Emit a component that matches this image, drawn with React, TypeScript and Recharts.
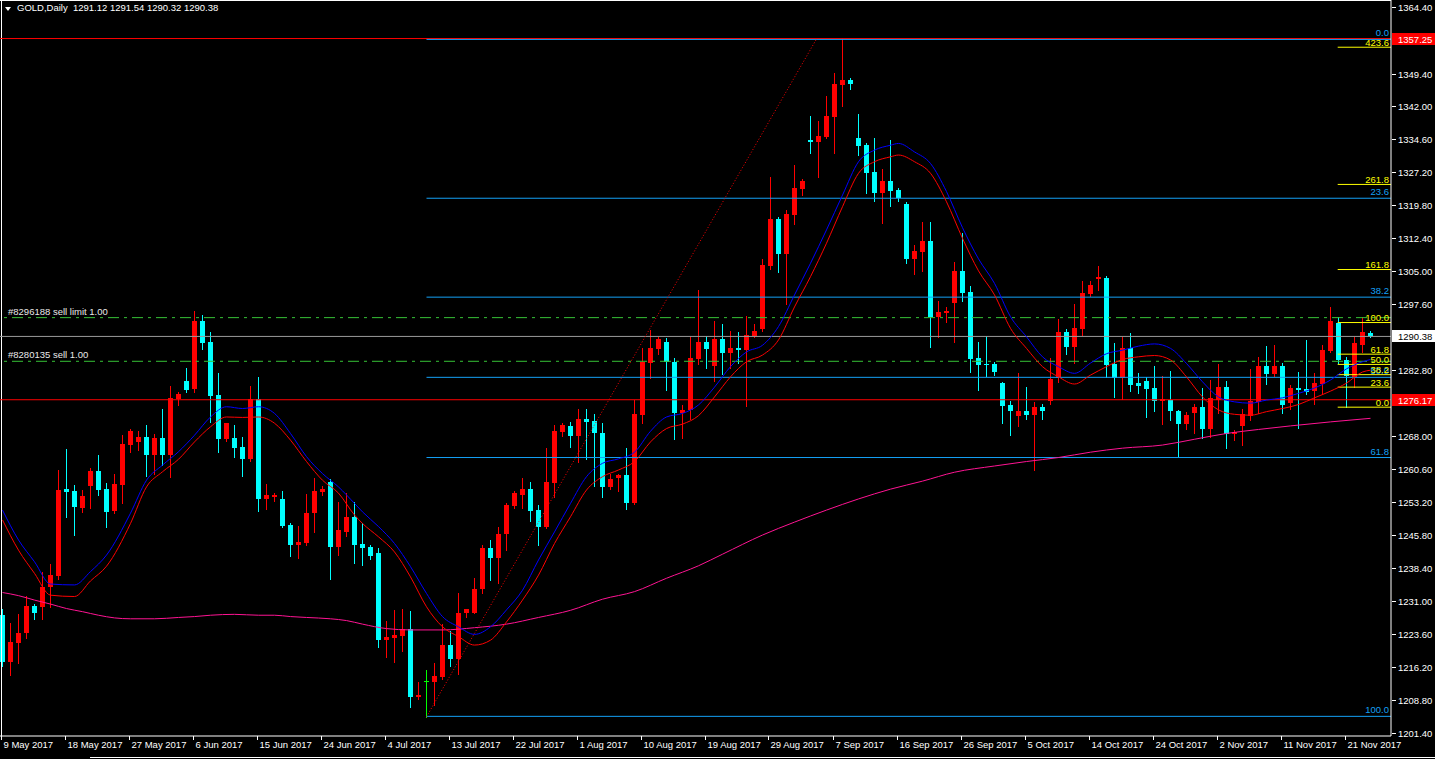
import { ComposedChart, Bar, Line, XAxis, YAxis, ReferenceLine } from "recharts";

// daily candles, 9 May 2017 .. 24 Nov 2017 (bar index 0..171)
const opens = [
  1227.8, 1217.3, 1221.6, 1223.7, 1229.9, 1229.7, 1234.1, 1236.6, 1256.1, 1255.7, 1251.9, 1256.8, 1260.2, 1256.1, 1251.2, 1257.0,
  1266.0, 1266.7, 1267.7, 1263.7, 1267.5, 1263.7, 1276.3, 1280.4, 1278.5, 1293.8, 1289.2, 1277.2, 1267.3, 1267.5, 1265.6, 1262.8,
  1276.3, 1253.9, 1254.4, 1253.9, 1248.0, 1243.6, 1244.1, 1250.7, 1255.5, 1257.8, 1243.2, 1246.5, 1249.9, 1243.9, 1243.2, 1241.7,
  1222.2, 1222.6, 1223.1, 1224.6, 1209.4, 1213.0, 1212.9, 1214.0, 1221.1, 1217.9, 1228.4, 1228.4, 1233.6, 1242.9, 1240.7, 1246.0,
  1252.4, 1254.8, 1256.1, 1251.4, 1247.7, 1257.5, 1269.0, 1270.3, 1268.1, 1271.8, 1271.4, 1268.8, 1256.6, 1258.7, 1259.3, 1253.0,
  1272.7, 1284.5, 1287.5, 1289.1, 1284.7, 1273.1, 1273.9, 1285.3, 1289.2, 1283.8, 1289.8, 1286.7, 1287.8, 1287.3, 1290.5, 1292.0,
  1306.3, 1316.7, 1308.9, 1317.6, 1323.5, 1334.5, 1334.0, 1335.1, 1339.7, 1346.8, 1347.9, 1335.0, 1333.3, 1327.4, 1322.6, 1325.3,
  1323.2, 1320.1, 1307.8, 1309.4, 1311.9, 1294.7, 1295.7, 1297.8, 1305.1, 1300.3, 1285.6, 1284.3, 1284.2, 1280.0, 1275.0, 1272.5,
  1273.7, 1272.7, 1274.6, 1275.9, 1281.1, 1291.4, 1288.1, 1292.0, 1299.9, 1303.3, 1303.6, 1284.3, 1281.0, 1287.8, 1279.9, 1280.4,
  1278.9, 1275.9, 1276.1, 1273.7, 1270.7, 1273.3, 1274.6, 1269.6, 1276.1, 1279.1, 1268.5, 1270.3, 1272.5, 1275.6, 1283.7, 1281.9,
  1283.7, 1275.4, 1278.7, 1278.6, 1278.2, 1279.7, 1287.1, 1293.5, 1285.2, 1281.2, 1288.5, 1291.12,
];
const highs = [
  1229.2, 1226.0, 1228.1, 1232.1, 1230.3, 1237.6, 1239.3, 1260.4, 1265.1, 1257.0, 1255.9, 1260.8, 1263.7, 1257.4, 1259.6, 1268.2,
  1269.5, 1269.1, 1270.5, 1268.5, 1274.1, 1279.2, 1278.0, 1283.4, 1296.1, 1295.3, 1291.4, 1282.1, 1271.0, 1270.5, 1267.9, 1279.2,
  1281.3, 1257.2, 1255.2, 1255.7, 1248.4, 1247.9, 1255.0, 1258.7, 1256.8, 1258.3, 1253.3, 1255.2, 1253.3, 1248.4, 1243.6, 1242.8,
  1226.6, 1229.0, 1229.3, 1228.8, 1212.9, 1215.6, 1217.0, 1225.8, 1224.3, 1232.9, 1229.3, 1236.1, 1243.6, 1244.7, 1247.7, 1253.1,
  1255.7, 1258.7, 1257.6, 1252.5, 1265.3, 1270.5, 1270.9, 1271.2, 1274.0, 1274.0, 1273.0, 1270.9, 1259.6, 1259.6, 1265.3, 1276.1,
  1287.7, 1291.8, 1290.2, 1290.0, 1285.6, 1275.1, 1290.2, 1300.8, 1290.5, 1293.8, 1293.2, 1291.6, 1291.3, 1295.0, 1293.2, 1307.8,
  1326.2, 1317.2, 1318.8, 1328.9, 1325.7, 1339.9, 1338.7, 1344.3, 1349.6, 1357.3, 1348.3, 1340.3, 1333.7, 1335.0, 1328.0, 1334.5,
  1323.6, 1320.5, 1310.9, 1316.1, 1316.1, 1298.4, 1296.9, 1307.2, 1313.7, 1301.7, 1289.2, 1290.5, 1284.7, 1280.2, 1275.9, 1282.2,
  1279.1, 1275.7, 1275.2, 1285.6, 1294.3, 1292.0, 1297.7, 1302.8, 1302.8, 1306.3, 1303.9, 1289.0, 1290.3, 1291.1, 1282.2, 1281.3,
  1283.7, 1281.5, 1282.6, 1273.8, 1273.5, 1275.2, 1278.9, 1280.6, 1284.2, 1280.4, 1269.4, 1274.2, 1283.1, 1285.8, 1288.3, 1288.5,
  1284.5, 1279.5, 1282.5, 1289.6, 1282.1, 1288.4, 1297.0, 1294.8, 1285.7, 1290.3, 1294.8, 1291.54,
];
const lows = [
  1216.4, 1214.4, 1217.1, 1222.8, 1226.9, 1227.0, 1229.7, 1235.9, 1249.9, 1245.8, 1251.0, 1251.8, 1254.8, 1247.7, 1250.7, 1253.0,
  1264.5, 1264.9, 1259.0, 1259.6, 1261.5, 1258.9, 1275.0, 1278.0, 1278.0, 1287.5, 1271.2, 1264.5, 1266.9, 1263.4, 1259.0, 1262.5,
  1251.3, 1251.7, 1253.5, 1247.5, 1241.2, 1240.7, 1243.6, 1246.5, 1254.8, 1235.9, 1241.3, 1245.6, 1239.6, 1239.1, 1240.4, 1220.7,
  1218.5, 1217.3, 1219.8, 1207.3, 1208.9, 1205.0, 1207.6, 1213.5, 1216.4, 1214.6, 1227.5, 1228.2, 1232.7, 1235.7, 1235.1, 1242.4,
  1251.9, 1251.9, 1249.0, 1243.6, 1247.4, 1254.4, 1268.0, 1265.6, 1262.3, 1262.8, 1256.9, 1254.3, 1256.1, 1255.7, 1251.6, 1252.7,
  1270.9, 1281.0, 1286.4, 1278.3, 1267.3, 1267.6, 1271.8, 1284.3, 1283.4, 1280.4, 1281.9, 1283.2, 1284.5, 1274.8, 1290.3, 1291.7,
  1305.5, 1304.9, 1297.7, 1315.6, 1322.1, 1331.6, 1326.2, 1334.9, 1331.6, 1342.1, 1345.9, 1331.1, 1322.6, 1320.8, 1315.8, 1319.7,
  1320.8, 1306.8, 1304.5, 1305.1, 1288.1, 1290.2, 1293.7, 1289.2, 1298.4, 1282.5, 1278.3, 1281.6, 1281.7, 1271.0, 1268.2, 1270.3,
  1271.8, 1260.4, 1271.8, 1275.2, 1280.2, 1286.4, 1284.5, 1290.7, 1299.4, 1300.8, 1281.3, 1276.8, 1276.3, 1278.1, 1277.7, 1272.3,
  1273.7, 1270.7, 1271.6, 1263.5, 1269.5, 1268.8, 1267.5, 1267.7, 1273.3, 1265.4, 1267.1, 1266.0, 1271.6, 1273.1, 1279.7, 1281.5,
  1273.3, 1274.1, 1269.9, 1277.5, 1275.2, 1277.4, 1286.8, 1284.4, 1274.5, 1279.0, 1286.9, 1290.32,
];
const closes = [
  1217.3, 1221.8, 1223.7, 1229.9, 1228.2, 1234.2, 1236.8, 1255.9, 1255.5, 1252.2, 1254.5, 1260.2, 1255.9, 1251.0, 1257.2, 1266.2,
  1269.1, 1267.7, 1263.7, 1267.5, 1263.7, 1276.5, 1277.5, 1278.3, 1293.8, 1289.0, 1277.1, 1267.3, 1270.9, 1265.4, 1262.9, 1276.3,
  1254.0, 1254.8, 1254.7, 1247.9, 1243.6, 1244.3, 1250.8, 1255.7, 1256.1, 1243.2, 1246.9, 1249.9, 1243.6, 1242.9, 1241.1, 1222.2,
  1223.0, 1223.3, 1224.6, 1209.5, 1209.9, 1213.0, 1214.1, 1221.1, 1218.0, 1228.4, 1229.1, 1233.7, 1242.9, 1240.7, 1246.0, 1252.5,
  1255.2, 1256.1, 1251.3, 1247.7, 1257.6, 1269.1, 1270.5, 1268.0, 1271.8, 1271.2, 1268.6, 1256.6, 1258.4, 1259.3, 1253.0, 1272.9,
  1284.7, 1287.7, 1289.7, 1284.6, 1273.3, 1273.9, 1285.5, 1289.2, 1287.5, 1289.8, 1286.7, 1287.8, 1287.3, 1290.7, 1291.6, 1306.4,
  1316.7, 1308.9, 1317.9, 1323.7, 1325.3, 1334.0, 1335.4, 1339.9, 1347.0, 1347.9, 1347.0, 1333.2, 1327.1, 1322.6, 1325.3, 1323.1,
  1321.5, 1307.8, 1309.6, 1311.9, 1294.7, 1295.9, 1296.2, 1305.1, 1300.2, 1285.3, 1284.0, 1284.0, 1282.5, 1274.8, 1273.7, 1273.7,
  1272.7, 1274.5, 1273.7, 1280.8, 1291.4, 1288.1, 1292.3, 1300.2, 1301.9, 1303.8, 1284.0, 1281.0, 1287.7, 1279.5, 1279.3, 1278.6,
  1275.9, 1276.3, 1273.7, 1270.7, 1272.7, 1274.6, 1269.6, 1276.6, 1279.1, 1268.5, 1268.9, 1273.0, 1275.9, 1283.7, 1281.9, 1283.7,
  1275.0, 1278.9, 1278.3, 1278.0, 1280.0, 1287.3, 1293.8, 1285.1, 1281.5, 1288.8, 1291.4, 1290.38,
];

// moving averages: [bar index, price]
const maBlue: [number, number][] = [
  [0, 1251.4], [2, 1244.7], [4, 1239.8], [6, 1234.8], [9, 1234.6], [11, 1237.6], [13, 1241.3], [16, 1250.7], [18, 1258.1],
  [20, 1261.5], [22, 1264.5], [24, 1268.2], [26, 1272.3], [28, 1274.6], [30, 1274.2], [32, 1274.6], [34, 1273.1], [36, 1268.6],
  [38, 1263.4], [40, 1259.6], [42, 1256.6], [44, 1252.9], [45, 1251.0], [47, 1247.7], [49, 1243.9], [51, 1238.7], [53, 1232.7],
  [55, 1227.5], [57, 1225.2], [59, 1223.5], [61, 1225.2], [63, 1229.0], [65, 1233.4], [67, 1240.2], [69, 1246.5], [71, 1252.9],
  [73, 1258.9], [75, 1261.9], [77, 1262.9], [79, 1264.4], [81, 1269.1], [83, 1272.3], [85, 1273.1], [87, 1275.0], [89, 1279.0],
  [91, 1283.6], [93, 1286.9], [95, 1288.4], [97, 1292.6], [99, 1299.7], [101, 1306.8], [103, 1314.3], [105, 1322.1],
  [107, 1329.6], [109, 1332.2], [111, 1333.3], [112, 1333.7], [114, 1331.8], [116, 1329.2], [118, 1322.9], [120, 1314.8],
  [122, 1307.8], [124, 1302.3], [126, 1294.8], [128, 1290.3], [130, 1285.8], [132, 1283.6], [134, 1282.1], [136, 1284.4],
  [138, 1286.5], [140, 1287.3], [142, 1288.2], [144, 1288.7], [146, 1287.7], [148, 1284.3], [150, 1280.2], [152, 1276.8],
  [154, 1275.7], [156, 1275.4], [158, 1276.1], [160, 1276.6], [162, 1277.6], [164, 1278.8], [166, 1280.6], [168, 1283.1],
  [170, 1284.7], [171, 1285.2],
];
const maRed: [number, number][] = [
  [0, 1249.2], [2, 1242.4], [4, 1237.2], [6, 1232.3], [9, 1232.0], [11, 1235.5], [13, 1238.8], [16, 1248.4], [18, 1256.6],
  [20, 1260.0], [22, 1262.8], [24, 1266.7], [26, 1270.1], [28, 1272.3], [30, 1272.2], [32, 1272.3], [34, 1270.9], [36, 1267.1],
  [38, 1262.3], [40, 1258.1], [42, 1255.2], [44, 1250.3], [45, 1248.4], [47, 1245.4], [49, 1242.0], [51, 1236.4], [53, 1229.7],
  [55, 1225.2], [57, 1223.0], [59, 1221.1], [61, 1222.2], [63, 1226.3], [65, 1231.2], [67, 1236.8], [69, 1243.9], [71, 1249.9],
  [73, 1255.9], [75, 1258.9], [77, 1260.4], [79, 1262.3], [81, 1266.7], [83, 1269.7], [85, 1270.7], [87, 1272.6], [89, 1276.8],
  [91, 1281.3], [93, 1284.7], [95, 1286.2], [97, 1289.6], [99, 1297.0], [101, 1303.8], [103, 1311.3], [105, 1319.5],
  [107, 1327.0], [109, 1329.6], [111, 1330.7], [112, 1331.1], [114, 1329.6], [116, 1327.0], [118, 1320.6], [120, 1312.4],
  [122, 1305.1], [124, 1299.7], [126, 1292.2], [128, 1287.7], [130, 1283.6], [132, 1281.3], [134, 1279.7], [136, 1281.7],
  [138, 1283.6], [140, 1285.2], [142, 1285.8], [144, 1286.1], [146, 1285.1], [148, 1281.3], [150, 1276.8], [152, 1273.9],
  [154, 1272.9], [156, 1272.7], [158, 1273.5], [160, 1274.2], [162, 1275.1], [164, 1276.6], [166, 1278.1], [168, 1279.9],
  [170, 1282.4], [171, 1282.8],
];
const maPink: [number, number][] = [
  [0, 1232.9], [2, 1232.2], [4, 1231.2], [6, 1230.3], [8, 1229.3], [10, 1228.6], [12, 1227.8], [14, 1227.2], [16, 1227.0],
  [19, 1227.0], [22, 1227.3], [24, 1227.5], [26, 1227.8], [29, 1228.0], [32, 1227.8], [34, 1227.8], [36, 1227.5], [38, 1227.3],
  [41, 1227.0], [43, 1226.6], [45, 1225.8], [48, 1224.8], [51, 1224.5], [55, 1224.5], [59, 1225.0], [63, 1225.8], [67, 1227.3],
  [71, 1228.9], [75, 1231.4], [79, 1233.1], [83, 1236.1], [87, 1238.9], [90, 1241.5], [95, 1245.8], [99, 1248.7], [103, 1251.4],
  [107, 1253.9], [111, 1256.1], [115, 1257.9], [119, 1259.9], [124, 1261.3], [128, 1262.3], [132, 1263.2], [136, 1264.4],
  [140, 1265.3], [145, 1266.0], [149, 1267.3], [153, 1268.6], [157, 1269.5], [161, 1270.3], [166, 1271.2], [171, 1272.0],
];

const dateTickBars = [0, 8, 16, 24, 32, 40, 48, 56, 64, 72, 80, 88, 96, 104, 112, 120, 128, 136, 144, 152, 160, 168];
const dateLabels = [
  "9 May 2017", "18 May 2017", "27 May 2017", "6 Jun 2017", "15 Jun 2017", "24 Jun 2017", "4 Jul 2017", "13 Jul 2017",
  "22 Jul 2017", "1 Aug 2017", "10 Aug 2017", "19 Aug 2017", "29 Aug 2017", "7 Sep 2017", "16 Sep 2017", "26 Sep 2017",
  "5 Oct 2017", "14 Oct 2017", "24 Oct 2017", "2 Nov 2017", "11 Nov 2017", "21 Nov 2017",
];
const priceTicks = [
  1201.4, 1208.8, 1216.2, 1223.6, 1231.0, 1238.4, 1245.8, 1253.2, 1260.6, 1268.0, 1282.8, 1297.6, 1305.0, 1312.4, 1319.8,
  1327.2, 1334.6, 1342.0, 1349.4, 1364.4,
];

// fibonacci retracement from the July low to the September high
const fibMainStart = 53;
const fibMainLevels = ["0.0", "23.6", "38.2", "50.0", "61.8", "100.0"];
const fibMainPrices = [1357.05, 1321.4, 1299.2, 1281.2, 1263.2, 1205.1];
const fibTrend = { fromBar: 53, fromPrice: 1205.0, toBar: 101.8, toPrice: 1357.3 };
// small fibonacci on the last swing
const fibSmallStart = 166.9;
const fibSmallLevels = ["0.0", "23.6", "38.2", "50.0", "61.8", "100.0", "161.8", "261.8", "423.6"];
const fibSmallPrices = [1274.5, 1279.0, 1281.8, 1284.1, 1286.4, 1293.5, 1305.4, 1324.5, 1355.3];

const orderLabels = ["#8296188 sell limit 1.00", "#8280135 sell 1.00"];
const orderPrices = [1294.6, 1284.8];

const bidPrice = 1290.38;
const redLevels = [1357.25, 1276.17];

const W = 1435;
const H = 759;
const X_MIN = -0.3125;
const X_MAX = 173.5625;
const Y_MIN = 1200.69;
const Y_MAX = 1365.9;
const FONT = "'Liberation Sans', Arial, sans-serif";
const BULL = "#ff0000";
const BEAR = "#00ffff";
const FIB = "#14a0f5";

const rows = opens.map((open, i) => ({
  i,
  open,
  high: highs[i],
  low: lows[i],
  close: closes[i],
  range: [lows[i], highs[i]],
}));
const toPoints = (pts: [number, number][]) => pts.map(([i, v]) => ({ i, v }));

function Candle(props: any) {
  const { x, y, width, height, payload } = props;
  if (!payload || x == null) return null;
  const { open, close, high, low } = payload;
  const color = close > open ? BULL : close < open ? BEAR : "#00ff00";
  const top = Math.min(y, y + height);
  const h = Math.abs(height);
  const toY = (p: number) => top + ((high - p) / (high - low || 1)) * h;
  const cx = Math.round(x + width / 2 - 0.5) + 0.5;
  const left = cx - 2.5;
  const bTop = Math.round(toY(Math.max(open, close)));
  const bBot = Math.round(toY(Math.min(open, close)));
  return (
    <g>
      <line x1={cx} x2={cx} y1={Math.round(top)} y2={Math.round(top + h) + 1} stroke={color} strokeWidth={1} />
      {open === close ? (
        <line x1={left} x2={left + 5} y1={bTop + 0.5} y2={bTop + 0.5} stroke={color} />
      ) : (
        <rect x={left} y={bTop} width={5} height={Math.max(1, bBot - bTop)} fill={color} />
      )}
    </g>
  );
}

function DateTick(props: any) {
  const { x, payload } = props;
  const idx = dateTickBars.indexOf(payload.value);
  const tx = Math.round(x) - 0.5;
  return (
    <g>
      <line x1={tx - 1} x2={tx - 1} y1={736} y2={740} stroke="#fff" />
      <text x={tx + 1} y={748} fill="#fff" fontSize={9.5} fontFamily={FONT}>
        {dateLabels[idx]}
      </text>
    </g>
  );
}

function PriceTick(props: any) {
  const { y, payload } = props;
  const ty = Math.round(y) + 0.5;
  return (
    <g>
      <line x1={1392} x2={1396} y1={ty} y2={ty} stroke="#fff" />
      <text x={1398} y={ty + 3.5} fill="#fff" fontSize={9.5} fontFamily={FONT}>
        {Number(payload.value).toFixed(2)}
      </text>
    </g>
  );
}

function LevelText(props: any) {
  const { viewBox, text, color, lift } = props;
  if (!viewBox) return null;
  return (
    <text x={viewBox.x + viewBox.width - 2} y={viewBox.y - lift} textAnchor="end" fill={color} fontSize={9.5} fontFamily={FONT}>
      {text}
    </text>
  );
}

function OrderText(props: any) {
  const { viewBox, text } = props;
  if (!viewBox) return null;
  return (
    <text x={8} y={viewBox.y - 3} fill="#e8e8e8" fontSize={9.5} fontFamily={FONT}>
      {text}
    </text>
  );
}

function PriceBox(props: any) {
  const { viewBox, text, bg, fg } = props;
  if (!viewBox) return null;
  const x0 = 1392;
  const cy = Math.round(viewBox.y);
  return (
    <g>
      <rect x={x0} y={cy - 6} width={W - x0} height={12} fill={bg} />
      <text x={x0 + 6} y={cy + 4} fill={fg} fontSize={9.5} fontFamily={FONT}>
        {text}
      </text>
    </g>
  );
}

export default function App() {
  return (
    <div style={{ position: "absolute", left: 0, top: 0, width: W, height: H, background: "#000", overflow: "hidden" }}>
      <ComposedChart width={W} height={H} data={rows} margin={{ top: 0, right: 0, bottom: 0, left: 0 }}>
        <XAxis
          type="number"
          dataKey="i"
          domain={[X_MIN, X_MAX]}
          allowDataOverflow
          ticks={dateTickBars}
          interval={0}
          tick={<DateTick />}
          tickLine={false}
          axisLine={{ stroke: "#fff" }}
          height={23}
        />
        <YAxis
          orientation="right"
          type="number"
          domain={[Y_MIN, Y_MAX]}
          allowDataOverflow
          ticks={priceTicks}
          interval={0}
          tick={<PriceTick />}
          tickLine={false}
          axisLine={{ stroke: "#fff" }}
          width={44}
        />

        <ReferenceLine x={-0.125} stroke="#fff" />
        <ReferenceLine y={1365.79} stroke="#fff" />

        <Bar dataKey="range" barSize={5} shape={<Candle />} isAnimationActive={false} />

        {redLevels.map((p) => (
          <ReferenceLine key={"r" + p} y={p} stroke="#ff0000" />
        ))}
        <ReferenceLine y={bidPrice} stroke="#9a9a9a" />
        {orderPrices.map((p, k) => (
          <ReferenceLine
            key={"o" + k}
            y={p}
            stroke="#36c236"
            strokeDasharray="11 5 3 5"
            label={<OrderText text={orderLabels[k]} />}
          />
        ))}
        {fibMainPrices.map((p, k) => (
          <ReferenceLine
            key={"f" + k}
            segment={[{ x: fibMainStart, y: p }, { x: X_MAX, y: p }]}
            stroke={FIB}
            label={<LevelText text={fibMainLevels[k]} color={FIB} lift={3} />}
          />
        ))}
        <ReferenceLine
          segment={[
            { x: fibTrend.fromBar, y: fibTrend.fromPrice },
            { x: fibTrend.toBar, y: fibTrend.toPrice },
          ]}
          stroke="#ff0000"
          strokeDasharray="1 2"
        />
        {fibSmallPrices.map((p, k) => (
          <ReferenceLine
            key={"s" + k}
            segment={[{ x: fibSmallStart, y: p }, { x: X_MAX, y: p }]}
            stroke="#ffff00"
            label={<LevelText text={fibSmallLevels[k]} color="#ffff00" lift={1.5} />}
          />
        ))}

        <Line data={toPoints(maPink)} dataKey="v" type="monotone" stroke="#ff1493" strokeWidth={1} dot={false} activeDot={false} isAnimationActive={false} />
        <Line data={toPoints(maRed)} dataKey="v" type="monotone" stroke="#ff0000" strokeWidth={1} dot={false} activeDot={false} isAnimationActive={false} />
        <Line data={toPoints(maBlue)} dataKey="v" type="monotone" stroke="#0000ff" strokeWidth={1} dot={false} activeDot={false} isAnimationActive={false} />

        <ReferenceLine y={redLevels[0]} stroke="none" label={<PriceBox text={redLevels[0].toFixed(2)} bg="#ff0000" fg="#fff" />} />
        <ReferenceLine y={bidPrice} stroke="none" label={<PriceBox text={bidPrice.toFixed(2)} bg="#fff" fg="#000" />} />
        <ReferenceLine y={redLevels[1]} stroke="none" label={<PriceBox text={redLevels[1].toFixed(2)} bg="#ff0000" fg="#fff" />} />
      </ComposedChart>

      <svg width={14} height={14} style={{ position: "absolute", left: 0, top: 2 }}>
        <polygon points="5,5 11,5 8,9" fill="#fff" />
      </svg>
      <div
        style={{
          position: "absolute",
          left: 17,
          top: 2,
          color: "#fff",
          fontFamily: FONT,
          fontSize: 9.5,
          whiteSpace: "pre",
          lineHeight: "12px",
        }}
      >
        {"GOLD,Daily  1291.12 1291.54 1290.32 1290.38"}
      </div>
      <div style={{ position: "absolute", left: 90, top: 757, width: W - 90, height: 1, background: "#fff" }} />
    </div>
  );
}
